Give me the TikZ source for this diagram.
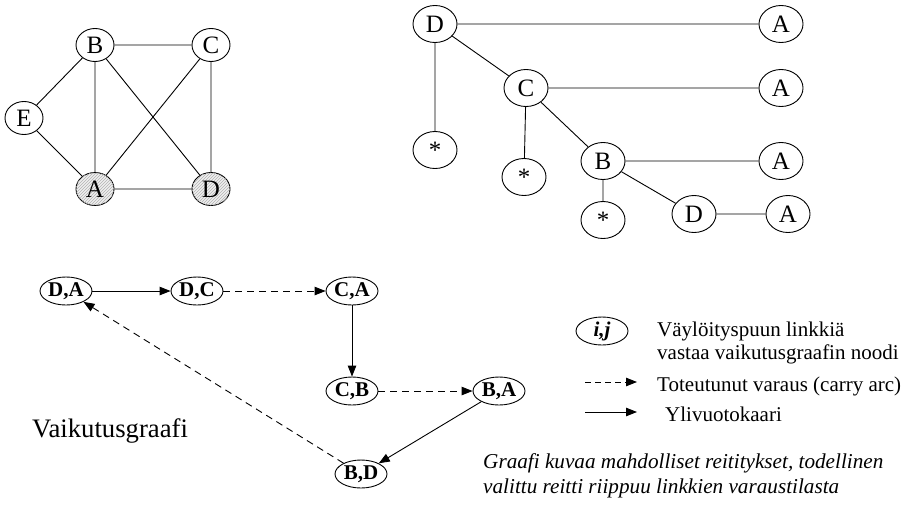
\documentclass[tikz,border=0pt]{standalone}
\usepackage{fontspec}
\setmainfont{Liberation Serif}
\usetikzlibrary{arrows.meta, shapes.geometric, patterns, positioning}

\begin{document}
\begin{tikzpicture}[
    x=1pt, y=-1pt,
    every node/.style={inner sep=0pt},
    vertex/.style={draw, ellipse, line width=0.9pt, minimum width=38pt, minimum height=33pt, font=\fontsize{25}{27}\selectfont},
    marked/.style={vertex, fill=gray!12, postaction={pattern=north east lines, pattern color=gray!60}},
    tnode/.style={vertex, minimum width=44pt, minimum height=37pt},
    pair/.style={draw, ellipse, line width=0.9pt, minimum width=52pt, minimum height=28pt, font=\bfseries\fontsize{21}{23}\selectfont},
    link/.style={line width=0.9pt},
    arrow/.style={-{Triangle[length=11pt, width=8.5pt]}, line width=0.9pt},
    carry/.style={arrow, dash pattern=on 7pt off 5pt},
    legend/.style={anchor=base west, font=\fontsize{21}{23}\selectfont}
]
\useasboundingbox (0,0) rectangle (909,509);

% Network
\node[vertex] (B) at (95,45) {B};
\node[vertex] (C) at (211,45) {C};
\node[vertex] (E) at (24,118) {E};
\node[marked] (A) at (95,189) {A};
\node[marked] (D) at (211,189) {D};

\draw[link] (B) -- (C) (B) -- (E) (B) -- (A) (B) -- (D)
            (C) -- (A) (C) -- (D) (E) -- (A) (A) -- (D);

% Route tree
\node[tnode] (tD) at (435,24) {D};
\node[tnode] (tA1) at (781,24) {A};
\node[tnode] (tC) at (526,88) {C};
\node[tnode] (tA2) at (781,88) {A};
\node[tnode] (ts1) at (435,150) {*};
\node[tnode] (tB) at (603,161) {B};
\node[tnode] (tA3) at (781,161) {A};
\node[tnode] (ts2) at (524,177) {*};
\node[tnode] (tD2) at (694,214) {D};
\node[tnode] (tA4) at (788,214) {A};
\node[tnode] (ts3) at (603,220) {*};

\draw[link] (tD) -- (tA1) (tD) -- (ts1) (tD) -- (tC)
            (tC) -- (tA2) (tC) -- (ts2) (tC) -- (tB)
            (tB) -- (tA3) (tB) -- (ts3) (tB) -- (tD2)
            (tD2) -- (tA4);

% Influence graph
\node[pair] (DA) at (66,291) {D,A};
\node[pair] (DC) at (197,291) {D,C};
\node[pair] (CA) at (352,291) {C,A};
\node[pair] (CB) at (352,391) {C,B};
\node[pair] (BA) at (499,391) {B,A};
\node[pair] (BD) at (361,474) {B,D};

\draw[arrow] (DA) -- (DC);
\draw[carry] (DC) -- (CA);
\draw[arrow] (CA) -- (CB);
\draw[carry] (CB) -- (BA);
\draw[arrow] (BA) -- (BD);
\draw[carry] (BD) -- (DA);

\node[anchor=base west, font=\fontsize{26.7}{28}\selectfont] (title) at (32,437) {Vaikutusgraafi};

% Legend
\node[pair, font=\bfseries\itshape\fontsize{21}{23}\selectfont] (key) at (602,331) {i,j};
\node[legend, align=left, anchor=north west] (keytext) at (657,322) {Väylöityspuun linkkiä\\vastaa vaikutusgraafin noodi};

\coordinate (d1) at (585,382);
\coordinate (d2) at (637,382);
\draw[carry, dash pattern=on 6pt off 4pt] (d1) -- (d2);
\node[legend] (carrytext) at (657,391) {Toteutunut varaus (carry arc)};

\coordinate (s1) at (585,412);
\coordinate (s2) at (637,412);
\draw[arrow] (s1) -- (s2);
\node[legend] (overflow) at (665,421) {Ylivuotokaari};

\node[anchor=north west, align=left, font=\itshape\fontsize{21.2}{25}\selectfont] (note) at (483,453)
  {Graafi kuvaa mahdolliset reititykset, todellinen\\valittu reitti riippuu linkkien varaustilasta};

\end{tikzpicture}
\end{document}
